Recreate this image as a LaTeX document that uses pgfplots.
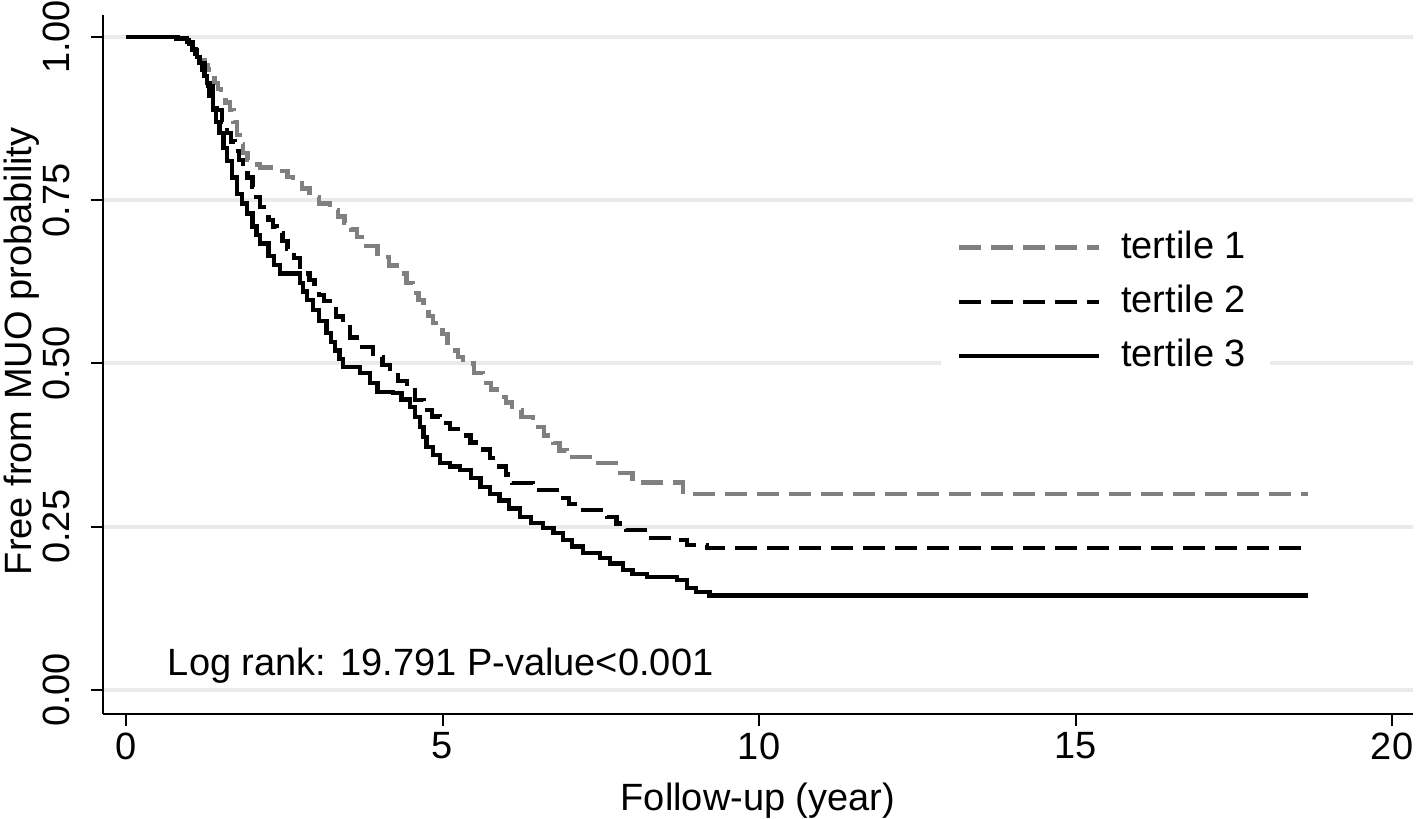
\documentclass[border=0pt]{standalone}
\usepackage{fontspec}
\setmainfont{Liberation Sans}
\usepackage{pgfplots}
\pgfplotsset{compat=1.18}
\definecolor{kmgray}{RGB}{128,128,128}
\definecolor{gridgray}{RGB}{234,234,234}

\begin{document}
\begin{tikzpicture}
\useasboundingbox (-25.75pt,-26pt) rectangle (328.25pt,178.5pt);
\begin{axis}[
    at={(0,0)}, anchor=south west,
    scale only axis, width=327.5pt, height=174.75pt,
    xmin=-0.363, xmax=20.33, ymin=-0.0368, ymax=1.0337,
    axis x line=bottom, axis y line=left,
    axis line style={-, line width=0.5pt},
    tick align=outside, major tick length=3pt,
    tick style={black, line width=0.5pt},
    xtick={0,5,10,15,20},
    ytick={0,0.25,0.5,0.75,1},
    yticklabels={0.00,0.25,0.50,0.75,1.00},
    ymajorgrids, major grid style={gridgray, line width=1pt},
    font=\fontsize{9.5}{11.4}\selectfont,
    /pgf/number format/assume math mode=true,
    yticklabel style={rotate=90, anchor=south, inner sep=0pt},
    yticklabel shift=5pt,
    xticklabel style={inner sep=0pt, anchor=north, yshift=-1.5pt},
    xlabel={Follow-up (year)},
    ylabel={Free from MUO probability},
    xlabel style={at={(axis description cs:0.5,0)}, anchor=north, inner sep=0pt, yshift=-17pt},
    ylabel style={at={(axis description cs:-0.0542,0.519)}, anchor=base, inner sep=0pt},
    legend style={draw=none, fill=white, at={(0.639,0.7155)}, anchor=north west,
        font=\fontsize{9.5}{11.4}\selectfont, row sep=1.2pt, inner xsep=4pt,
        cells={anchor=west}},
    legend image code/.code={\draw[#1] (0pt,0pt) -- (35pt,0pt); \path (38pt,0pt);},
    every axis plot/.append style={line width=1.1pt},
]
\addplot[const plot, kmgray, dash pattern=on 5.5pt off 2.5pt] coordinates {
(0,1.0) (0.95,1.0) (1.0,0.99) (1.05,0.982) (1.1,0.975) (1.17,0.965) (1.24,0.957) (1.3,0.95)
(1.35,0.94) (1.4,0.93) (1.45,0.92) (1.5,0.91) (1.57,0.9) (1.64,0.888) (1.7,0.87) (1.75,0.85)
(1.8,0.836) (1.85,0.822) (1.92,0.812) (2.0,0.805) (2.12,0.80) (2.4,0.795) (2.55,0.786) (2.64,0.78)
(2.78,0.768) (2.9,0.755) (3.05,0.745) (3.22,0.735) (3.35,0.725) (3.45,0.715) (3.55,0.705) (3.65,0.694)
(3.8,0.68) (3.97,0.663) (4.15,0.65) (4.33,0.638) (4.43,0.623) (4.53,0.608) (4.62,0.597) (4.7,0.585)
(4.78,0.573) (4.85,0.562) (5.0,0.545) (5.08,0.532) (5.15,0.52) (5.24,0.51) (5.32,0.50) (5.5,0.485)
(5.64,0.47) (5.77,0.46) (5.9,0.449) (6.0,0.44) (6.1,0.429) (6.25,0.418) (6.43,0.403)
(6.6,0.39) (6.75,0.378) (6.85,0.367) (6.96,0.357) (7.38,0.348) (7.8,0.332) (8.0,0.318) (8.8,0.30)
(18.67,0.30)};
\addlegendentry{tertile 1}
\addplot[const plot, black, dash pattern=on 5.5pt off 2.5pt] coordinates {
(0,1.0) (0.95,1.0) (1.0,0.99) (1.05,0.982) (1.1,0.975) (1.17,0.96) (1.24,0.943) (1.3,0.925)
(1.37,0.905) (1.44,0.888) (1.52,0.87) (1.6,0.853) (1.66,0.84) (1.72,0.825) (1.79,0.812) (1.85,0.80)
(1.92,0.785) (2.0,0.77) (2.06,0.755) (2.12,0.74) (2.18,0.73) (2.25,0.72) (2.32,0.71) (2.38,0.70)
(2.47,0.688) (2.55,0.675) (2.65,0.662) (2.75,0.648) (2.82,0.638) (2.9,0.628) (2.98,0.616) (3.05,0.605)
(3.13,0.596) (3.22,0.587) (3.32,0.572) (3.43,0.556) (3.54,0.54) (3.65,0.525) (3.9,0.51) (4.05,0.498)
(4.17,0.487) (4.3,0.473) (4.44,0.459) (4.57,0.444) (4.7,0.429) (4.83,0.419) (4.96,0.409) (5.12,0.4)
(5.28,0.39) (5.44,0.379) (5.6,0.368) (5.75,0.355) (5.9,0.342) (6.0,0.33) (6.1,0.317) (6.43,0.306)
(6.86,0.294) (7.0,0.285) (7.17,0.276) (7.6,0.265) (7.75,0.255) (7.9,0.245) (8.23,0.233)
(8.7,0.23) (8.86,0.222) (9.18,0.217) (18.67,0.217)};
\addlegendentry{tertile 2}
\addplot[const plot, black] coordinates {
(0,1.0) (0.8,0.998) (0.96,0.992) (1.05,0.98) (1.12,0.969) (1.16,0.96) (1.2,0.95) (1.24,0.94)
(1.28,0.93) (1.32,0.91) (1.37,0.888) (1.42,0.87) (1.48,0.853) (1.54,0.83) (1.6,0.81) (1.67,0.785)
(1.75,0.76) (1.83,0.745) (1.91,0.73) (2.0,0.71) (2.06,0.697) (2.12,0.684) (2.25,0.665) (2.34,0.651)
(2.43,0.638) (2.75,0.623) (2.8,0.61) (2.86,0.597) (2.95,0.582) (3.05,0.565) (3.17,0.547) (3.24,0.533)
(3.3,0.52) (3.37,0.507) (3.43,0.495) (3.7,0.485) (3.85,0.47) (3.97,0.456) (4.22,0.455) (4.35,0.445)
(4.49,0.433) (4.57,0.418) (4.64,0.403) (4.7,0.387) (4.75,0.372) (4.85,0.36) (4.96,0.348) (5.12,0.342)
(5.28,0.337) (5.45,0.325) (5.6,0.311) (5.75,0.30) (5.9,0.29) (6.05,0.278) (6.22,0.265) (6.4,0.256)
(6.59,0.248) (6.75,0.24) (6.9,0.23) (7.05,0.22) (7.22,0.21) (7.49,0.202) (7.65,0.194) (7.85,0.184)
(8.0,0.178) (8.23,0.173) (8.7,0.168) (8.86,0.156) (9.0,0.15) (9.22,0.145) (18.67,0.145)};
\addlegendentry{tertile 3}
\node[anchor=west, inner sep=0pt, font=\fontsize{9.5}{11.4}\selectfont] at (axis cs:0.65,0.037) {Log rank: 19.791 P-value<0.001};
\end{axis}
\end{tikzpicture}
\end{document}
